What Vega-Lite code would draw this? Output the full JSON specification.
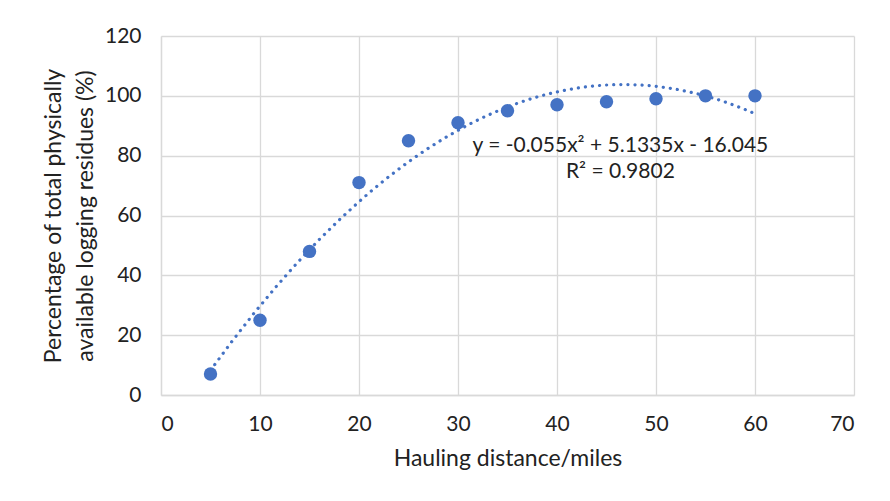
{
  "$schema": "https://vega.github.io/schema/vega-lite/v6.json",
  "width": 693,
  "height": 359,
  "autosize": {"type": "none"},
  "padding": {"left": 161, "top": 36, "right": 36, "bottom": 106},
  "background": "white",
  "config": {
    "font": "Lato",
    "view": {"stroke": null},
    "axis": {
      "grid": true,
      "gridColor": "#d9d9d9",
      "gridWidth": 1.3,
      "domainColor": "#d9d9d9",
      "domainWidth": 1.3,
      "ticks": false,
      "labelFont": "Lato",
      "labelFontSize": 21,
      "labelColor": "#222222",
      "titleFont": "Lato",
      "titleFontSize": 23,
      "titleFontWeight": "normal",
      "titleColor": "#222222",
      "titleLineHeight": 32
    }
  },
  "data": {
    "values": [
      {"x": 5, "y": 7},
      {"x": 10, "y": 25},
      {"x": 15, "y": 48},
      {"x": 20, "y": 71},
      {"x": 25, "y": 85},
      {"x": 30, "y": 91},
      {"x": 35, "y": 95},
      {"x": 40, "y": 97},
      {"x": 45, "y": 98},
      {"x": 50, "y": 99},
      {"x": 55, "y": 100},
      {"x": 60, "y": 100}
    ]
  },
  "layer": [
    {
      "transform": [
        {"regression": "y", "on": "x", "method": "poly", "order": 2, "extent": [5, 60]}
      ],
      "mark": {"type": "line", "color": "#4472C4", "strokeWidth": 3.2, "strokeCap": "round", "strokeDash": [0.1, 7]},
      "encoding": {
        "x": {"field": "x", "type": "quantitative"},
        "y": {"field": "y", "type": "quantitative"}
      }
    },
    {
      "mark": {"type": "circle", "color": "#4472C4", "opacity": 1, "size": 180},
      "encoding": {
        "x": {
          "field": "x", "type": "quantitative",
          "scale": {"domain": [0, 70], "nice": false},
          "axis": {"values": [0, 10, 20, 30, 40, 50, 60, 70], "labelPadding": 18, "title": "Hauling distance/miles", "titlePadding": 13}
        },
        "y": {
          "field": "y", "type": "quantitative",
          "scale": {"domain": [0, 120], "nice": false},
          "axis": {"values": [0, 20, 40, 60, 80, 100, 120], "labelPadding": 20, "title": ["Percentage of total physically", "available logging residues (%)"], "titlePadding": 7}
        }
      }
    },
    {
      "data": {
        "values": [
          {"x": 46.4, "y": 83.2, "label": "y = -0.055x² + 5.1335x - 16.045"},
          {"x": 46.4, "y": 74.6, "label": "R² = 0.9802"}
        ]
      },
      "mark": {"type": "text", "font": "Lato", "fontSize": 21, "color": "#222222", "align": "center", "baseline": "middle"},
      "encoding": {
        "x": {"field": "x", "type": "quantitative"},
        "y": {"field": "y", "type": "quantitative"},
        "text": {"field": "label"}
      }
    }
  ]
}
